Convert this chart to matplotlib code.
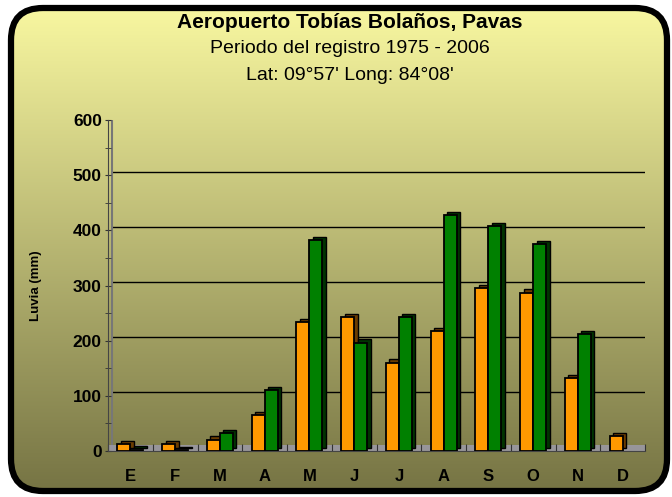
import numpy as np
import matplotlib
matplotlib.use("Agg")
import matplotlib.pyplot as plt
from matplotlib.patches import FancyBboxPatch, Polygon
from matplotlib import transforms

months = ["E", "F", "M", "A", "M", "J", "J", "A", "S", "O", "N", "D"]
serie_naranja = [12, 12, 20, 65, 233, 242, 160, 217, 295, 287, 132, 27]
serie_verde = [2, 1, 32, 110, 382, 196, 242, 427, 407, 375, 212, 0]
yticks = [0, 100, 200, 300, 400, 500, 600]

plt.rcParams.update({"font.family": "Liberation Sans"})
W, H = 672, 497
fig = plt.figure(figsize=(W / 100, H / 100), dpi=100)
fig.patch.set_facecolor("white")

# background gradient + rounded black frame
bg = fig.add_axes([0, 0, 1, 1]); bg.set_xlim(0, W); bg.set_ylim(0, H); bg.axis("off")
top = np.array([248, 247, 160]) / 255; bot = np.array([118, 116, 68]) / 255
t = np.linspace(0, 1, 256)[:, None]
grad = (top * (1 - t) + bot * t)[:, None, :].repeat(2, axis=1)
frame = FancyBboxPatch((11, 6), W - 16, H - 14, boxstyle="round,pad=0,rounding_size=32",
                       fc="none", ec="black", lw=4.5, zorder=3)
bg.add_patch(frame)
im = bg.imshow(grad, extent=(11, W - 5, 6, H - 8), aspect="auto", zorder=1)
im.set_clip_path(frame)

# titles
fig.text(0.52, 0.955, "Aeropuerto Tobías Bolaños, Pavas", ha="center", va="center",
         fontsize=15, fontweight="bold")
fig.text(0.52, 0.902, "Periodo del registro 1975 - 2006", ha="center", va="center", fontsize=14)
fig.text(0.52, 0.848, "Lat: 09°57' Long: 84°08'", ha="center", va="center", fontsize=14)

# plot area
ax = fig.add_axes([108 / W, (H - 451) / H, (645 - 108) / W, (451 - 120) / H])
ax.patch.set_alpha(0)
ax.set_xlim(0, 12); ax.set_ylim(0, 600)
dep = transforms.offset_copy(ax.transData, fig=fig, x=3.5, y=3.5, units="dots")

# back wall grid + floor
for v in yticks[1:]:
    ax.plot([0, 12], [v, v], color="black", lw=1.0, transform=dep, zorder=1)
ax.plot([0, 0], [0, 600], color="#777777", lw=1.5, transform=dep, zorder=1)
ax.plot([12, 12], [0, 600], color="#888888", lw=1.5, transform=dep, zorder=1)
ax.plot([0, 12], [600, 600], color="#777777", lw=1.5, transform=dep, zorder=1)
ax.add_patch(Polygon([[0, 0], [12, 0], [12, 11], [0, 11]], closed=True,
                     fc="#9c9aa8", ec="none", alpha=0.85, zorder=1.5))

x = np.arange(len(months))
bw = 0.29
for xs, vals, col, dark in [(x + 0.21, serie_naranja, "#ff9900", "#6a3c00"),
                            (x + 0.5, serie_verde, "#008000", "#003300")]:
    for xi, v in zip(xs, vals):
        if v <= 0:
            continue
        # 3D side/top faces drawn with the depth offset
        ax.bar(xi, v, width=bw, align="edge", color=dark, edgecolor="black", lw=1,
               transform=dep, zorder=2)
        ax.bar(xi, v, width=bw, align="edge", color=col, edgecolor="black", lw=1.3, zorder=3)

ax.set_yticks(yticks)
ax.set_yticklabels([str(v) for v in yticks], fontsize=12.5, fontweight="bold")
ax.set_yticks(np.arange(50, 600, 100), minor=True)
ax.set_xticks(np.arange(0, 13))
ax.set_xticklabels([])
ax.set_xticks(x + 0.5, minor=True)
ax.set_xticklabels(months, minor=True, fontsize=12, fontweight="bold")
ax.tick_params(axis="x", which="major", length=5, direction="in", color="#333")
ax.tick_params(axis="x", which="minor", length=0, pad=13)
ax.tick_params(axis="y", which="both", length=5, direction="inout", color="#333", pad=2)
for s in ("top", "right"):
    ax.spines[s].set_visible(False)
ax.spines["left"].set_color("#444"); ax.spines["bottom"].set_color("#444")
ax.set_ylabel("Luvia (mm)", fontsize=9.5, fontweight="bold", labelpad=22)

fig.savefig("out.png", dpi=100)
